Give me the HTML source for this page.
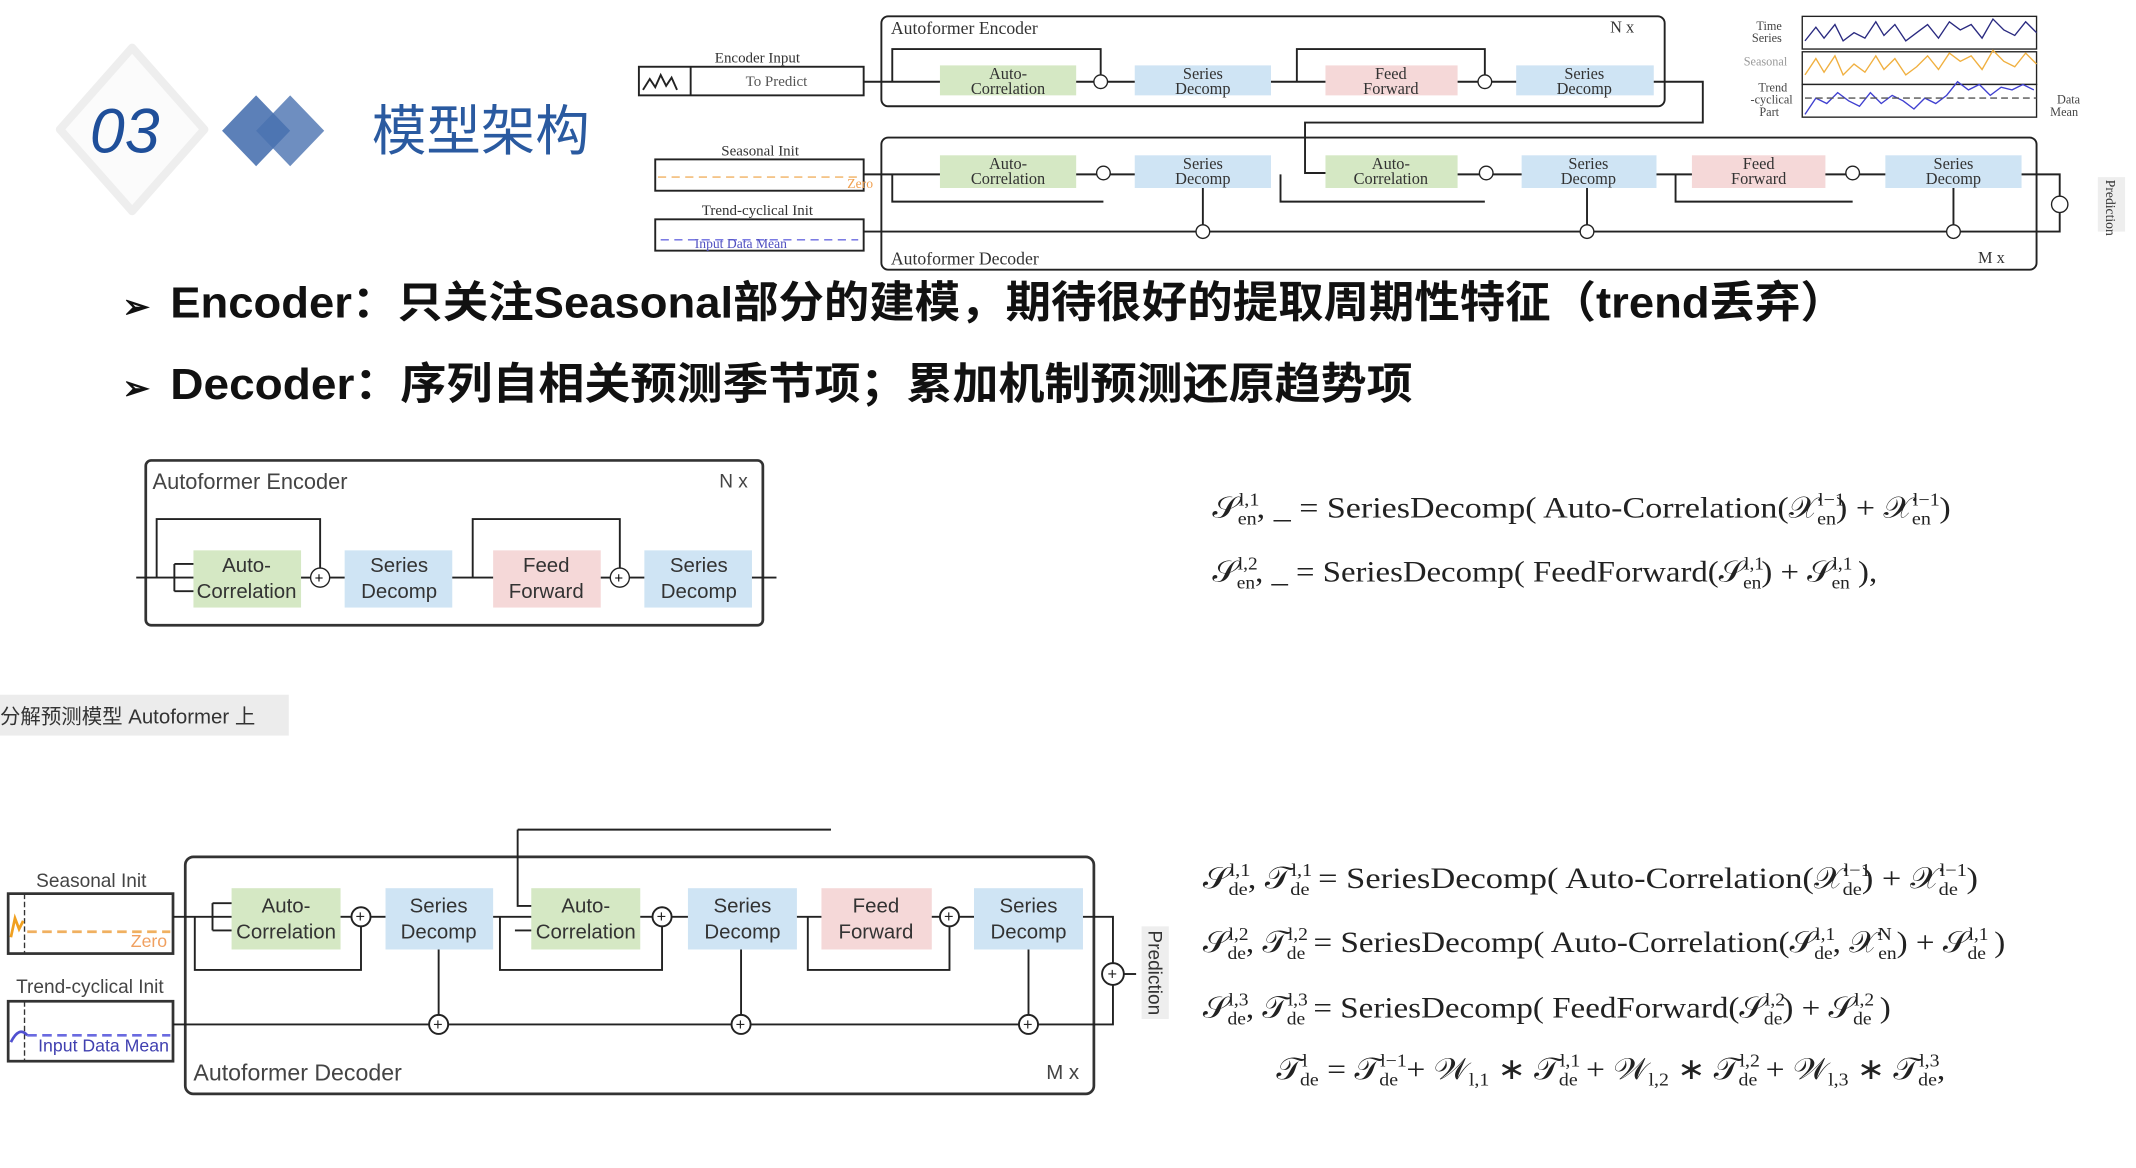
<!DOCTYPE html>
<html><head><meta charset="utf-8"><style>
html,body{margin:0;padding:0;background:#fff}
svg{display:block}
.cn{font-family:"Liberation Sans","Noto Sans CJK SC",sans-serif}
.m{font-family:"Liberation Serif",serif;font-size:22px;fill:#222}
.s{font-size:13px}
.b{font-family:"Liberation Sans",sans-serif;fill:#333;text-anchor:middle}
.ln{stroke:#222;fill:none;stroke-width:1.4}
</style></head><body>
<svg width="2136" height="1168" viewBox="0 0 1568 857.4" xmlns="http://www.w3.org/2000/svg">
<defs><marker id="a" viewBox="0 0 6 6" refX="5" refY="3" markerWidth="5" markerHeight="5" orient="auto"><path d="M0,0L6,3L0,6z" fill="#222"/></marker></defs>
<rect width="1568" height="858" fill="#fff"/>
<!-- header -->
<path d="M97,35 L150,95 L97,155 L44,95Z" fill="#fbfbfb" stroke="#eee" stroke-width="6" stroke-linejoin="round"/>
<text x="66" y="112" font-family="Liberation Sans,sans-serif" font-style="italic" font-size="46" fill="#1f4f9a">03</text>
<path d="M188,70 L213,96 L188,122 L163,96Z" fill="#4a72b0" opacity="0.9"/>
<path d="M213,70 L238,96 L213,122 L188,96Z" fill="#4a72b0" opacity="0.8"/>
<text x="273" y="110" class="cn" font-size="40" fill="#2a5aa0">模型架构</text>

<!-- top diagram -->
<g font-family="Liberation Serif,serif">
<rect x="647" y="12" width="575" height="66" rx="5" class="ln"/>
<text x="654" y="25" font-size="13" fill="#333">Autoformer Encoder</text><text x="1182" y="24" font-size="12" fill="#333">N x</text>
<rect x="647" y="101" width="848" height="97" rx="5" class="ln"/>
<text x="654" y="194" font-size="13" fill="#333">Autoformer Decoder</text><text x="1452" y="193" font-size="12" fill="#333">M x</text>
<text x="556" y="46" font-size="11" fill="#333" text-anchor="middle">Encoder Input</text>
<rect x="469" y="49" width="165" height="21" class="ln"/><line x1="507" y1="49" x2="507" y2="70" class="ln"/>
<path d="M472,66 l5,-8 4,6 4,-9 4,8 4,-6 4,9" class="ln" stroke-width="1"/>
<text x="570" y="63" font-size="11" fill="#555" text-anchor="middle">To Predict</text>
<text x="558" y="114" font-size="11" fill="#333" text-anchor="middle">Seasonal Init</text>
<rect x="481" y="117" width="153" height="23" class="ln"/><line x1="483" y1="130" x2="630" y2="130" stroke="#f0b060" stroke-dasharray="6 4"/>
<text x="622" y="138" font-size="10" fill="#f0a050">Zero</text>
<text x="556" y="158" font-size="11" fill="#333" text-anchor="middle">Trend-cyclical Init</text>
<rect x="481" y="161" width="153" height="23" class="ln"/><line x1="485" y1="176" x2="630" y2="176" stroke="#6a6ae0" stroke-dasharray="6 4"/>
<text x="510" y="182" font-size="10" fill="#5050c0">Input Data Mean</text>
<g font-size="12" text-anchor="middle" fill="#333">
<rect x="690" y="48" width="100" height="22" fill="#d5e8c4"/><text x="740" y="58">Auto-</text><text x="740" y="69">Correlation</text>
<rect x="833" y="48" width="100" height="22" fill="#cfe4f4"/><text x="883" y="58">Series</text><text x="883" y="69">Decomp</text>
<rect x="973" y="48" width="97" height="22" fill="#f5d8d8"/><text x="1021" y="58">Feed</text><text x="1021" y="69">Forward</text>
<rect x="1113" y="48" width="101" height="22" fill="#cfe4f4"/><text x="1163" y="58">Series</text><text x="1163" y="69">Decomp</text>
<rect x="690" y="114" width="100" height="24" fill="#d5e8c4"/><text x="740" y="124">Auto-</text><text x="740" y="135">Correlation</text>
<rect x="833" y="114" width="100" height="24" fill="#cfe4f4"/><text x="883" y="124">Series</text><text x="883" y="135">Decomp</text>
<rect x="973" y="114" width="97" height="24" fill="#d5e8c4"/><text x="1021" y="124">Auto-</text><text x="1021" y="135">Correlation</text>
<rect x="1117" y="114" width="99" height="24" fill="#cfe4f4"/><text x="1166" y="124">Series</text><text x="1166" y="135">Decomp</text>
<rect x="1242" y="114" width="98" height="24" fill="#f5d8d8"/><text x="1291" y="124">Feed</text><text x="1291" y="135">Forward</text>
<rect x="1384" y="114" width="100" height="24" fill="#cfe4f4"/><text x="1434" y="124">Series</text><text x="1434" y="135">Decomp</text>
</g>
<g class="ln" stroke-width="1">
<path d="M634,60 H690"/><path d="M655,60 V36 H808 V55"/><path d="M790,60 H833"/><path d="M933,60 H973"/><path d="M952,60 V36 H1090 V55"/><path d="M1070,60 H1113"/><path d="M1214,60 H1250 V90 H958 V127 H973"/>
<path d="M634,128 H690"/><path d="M655,128 V148 H810"/><path d="M790,128 H833"/><path d="M940,128 V148 H1090"/><path d="M1070,128 H1117"/><path d="M1216,128 H1242"/><path d="M1230,128 V148 H1360"/><path d="M1340,128 H1384"/><path d="M1484,128 H1512 V144"/>
<path d="M634,170 H1512 V156"/><path d="M883,138 V165"/><path d="M1165,138 V165"/><path d="M1434,138 V165"/>
</g>
<g fill="#fff" stroke="#222" stroke-width="1">
<circle cx="808" cy="60" r="5"/><circle cx="1090" cy="60" r="5"/><circle cx="810" cy="127" r="5"/><circle cx="1091" cy="127" r="5"/><circle cx="1360" cy="127" r="5"/>
<circle cx="883" cy="170" r="5"/><circle cx="1165" cy="170" r="5"/><circle cx="1434" cy="170" r="5"/><circle cx="1512" cy="150" r="6"/></g>
<rect x="1540" y="130" width="20" height="40" fill="#eee"/><text x="1546" y="132" font-size="10" transform="rotate(90 1546 132)" fill="#333">Prediction</text>
<text x="1308" y="22" font-size="9" text-anchor="end" fill="#444">Time</text><text x="1308" y="31" font-size="9" text-anchor="end" fill="#444">Series</text>
<text x="1312" y="48" font-size="9" text-anchor="end" fill="#999">Seasonal</text><text x="1312" y="67" font-size="9" text-anchor="end" fill="#444">Trend</text><text x="1316" y="76" font-size="9" text-anchor="end" fill="#444">-cyclical</text><text x="1306" y="85" font-size="9" text-anchor="end" fill="#444">Part</text>
<text x="1510" y="76" font-size="9" fill="#444">Data</text><text x="1505" y="85" font-size="9" fill="#444">Mean</text>
<rect x="1323" y="12" width="172" height="24" fill="#fff" stroke="#222"/><rect x="1323" y="38" width="172" height="24" fill="#fff" stroke="#222"/><rect x="1323" y="62" width="172" height="24" fill="#fff" stroke="#222"/>
<path d="M1325,30 l8,-10 6,8 8,-10 6,12 8,-6 8,4 8,-12 6,10 8,-8 8,12 8,-6 8,-6 8,10 8,-12 8,6 8,-4 8,10 8,-14 8,8 8,4 8,-10 8,8" fill="none" stroke="#2a2a80" stroke-width="1"/>
<path d="M1325,55 l8,-12 6,10 8,-12 6,14 8,-8 8,6 8,-12 6,10 8,-8 8,12 8,-6 8,-8 8,10 8,-12 8,6 8,-4 8,10 8,-14 8,8 8,4 8,-10 8,8" fill="none" stroke="#f0b040" stroke-width="1"/>
<path d="M1325,84 l8,-12 8,4 8,-8 8,6 8,4 8,-10 8,8 8,-6 8,4 8,6 8,-8 8,4 8,-6 8,-10 8,6 8,-4 8,8 8,-6 8,2 8,-4 8,4" fill="none" stroke="#4040d0" stroke-width="1"/>
<line x1="1325" y1="72" x2="1495" y2="72" stroke="#555" stroke-dasharray="5 3"/>
</g>

<!-- bullets -->
<g class="cn" font-weight="bold" fill="#111">
<text x="90" y="233" font-size="24">➢</text>
<text x="125" y="233" font-size="32" textLength="1230" lengthAdjust="spacingAndGlyphs">Encoder：只关注Seasonal部分的建模，期待很好的提取周期性特征（trend丢弃）</text>
<text x="90" y="293" font-size="24">➢</text>
<text x="125" y="293" font-size="32" textLength="912" lengthAdjust="spacingAndGlyphs">Decoder：序列自相关预测季节项；累加机制预测还原趋势项</text>
</g>

<!-- middle encoder -->
<g font-family="Liberation Sans,sans-serif">
<rect x="107" y="338" width="453" height="121" rx="4" fill="none" stroke="#333" stroke-width="2"/>
<text x="112" y="359" font-size="16" fill="#444">Autoformer Encoder</text><text x="528" y="358" font-size="14" fill="#444">N x</text>
<g font-size="15" text-anchor="middle" fill="#333">
<rect x="142" y="404" width="79" height="42" fill="#d5e8c4"/><text x="181" y="420">Auto-</text><text x="181" y="439">Correlation</text>
<rect x="253" y="404" width="79" height="42" fill="#cfe4f4"/><text x="293" y="420">Series</text><text x="293" y="439">Decomp</text>
<rect x="362" y="404" width="79" height="42" fill="#f5d8d8"/><text x="401" y="420">Feed</text><text x="401" y="439">Forward</text>
<rect x="473" y="404" width="79" height="42" fill="#cfe4f4"/><text x="513" y="420">Series</text><text x="513" y="439">Decomp</text>
</g>
<g class="ln">
<path d="M100,424 H142"/><path d="M115,424 V381 H235 V418"/><path d="M221,424 H229"/><path d="M241,424 H253"/><path d="M332,424 H362"/><path d="M347,424 V381 H455 V418"/><path d="M441,424 H449"/><path d="M461,424 H473"/><path d="M552,424 H570"/>
<path d="M128,414 V434 M128,414 H142 M128,434 H142"/>
</g>
<circle cx="235" cy="424" r="7" fill="#fff" stroke="#222"/><circle cx="455" cy="424" r="7" fill="#fff" stroke="#222"/>
<text x="231" y="428" font-size="11">+</text><text x="451" y="428" font-size="11">+</text>
</g>

<!-- tag -->
<rect x="0" y="510" width="212" height="30" fill="#ececec"/>
<text x="0" y="531" class="cn" font-size="15" fill="#333">分解预测模型 Autoformer 上</text>

<!-- bottom decoder -->
<g font-family="Liberation Sans,sans-serif">
<rect x="136" y="629" width="667" height="174" rx="6" fill="none" stroke="#333" stroke-width="2"/>
<text x="142" y="793" font-size="17" fill="#444">Autoformer Decoder</text><text x="768" y="792" font-size="15" fill="#444">M x</text>
<text x="67" y="651" font-size="14" fill="#444" text-anchor="middle">Seasonal Init</text>
<rect x="6" y="656" width="121" height="44" fill="#fff" stroke="#333" stroke-width="2"/><line x1="18" y1="656" x2="18" y2="700" stroke="#333" stroke-dasharray="4 2"/>
<line x1="20" y1="684" x2="125" y2="684" stroke="#f0b060" stroke-width="2" stroke-dasharray="7 4"/><path d="M8,688 l3,-14 3,8 3,-6" stroke="#f0a020" fill="none" stroke-width="2"/>
<text x="96" y="695" font-size="13" fill="#f0a060">Zero</text>
<text x="66" y="729" font-size="14" fill="#444" text-anchor="middle">Trend-cyclical Init</text>
<rect x="6" y="735" width="121" height="44" fill="#fff" stroke="#333" stroke-width="2"/><line x1="18" y1="735" x2="18" y2="779" stroke="#333" stroke-dasharray="4 2"/>
<line x1="20" y1="760" x2="125" y2="760" stroke="#6a6ae0" stroke-width="2" stroke-dasharray="7 4"/><path d="M8,765 q6,-12 12,-5" stroke="#5050d0" fill="none" stroke-width="2"/>
<text x="28" y="772" font-size="13" fill="#4040b0">Input Data Mean</text>
<g font-size="15" text-anchor="middle" fill="#333">
<rect x="170" y="652" width="80" height="45" fill="#d5e8c4"/><text x="210" y="670">Auto-</text><text x="210" y="689">Correlation</text>
<rect x="283" y="652" width="79" height="45" fill="#cfe4f4"/><text x="322" y="670">Series</text><text x="322" y="689">Decomp</text>
<rect x="390" y="652" width="80" height="45" fill="#d5e8c4"/><text x="430" y="670">Auto-</text><text x="430" y="689">Correlation</text>
<rect x="505" y="652" width="80" height="45" fill="#cfe4f4"/><text x="545" y="670">Series</text><text x="545" y="689">Decomp</text>
<rect x="603" y="652" width="81" height="45" fill="#f5d8d8"/><text x="643" y="670">Feed</text><text x="643" y="689">Forward</text>
<rect x="715" y="652" width="80" height="45" fill="#cfe4f4"/><text x="755" y="670">Series</text><text x="755" y="689">Decomp</text>
</g>
<g class="ln" stroke-width="1.6">
<path d="M127,673 H170"/><path d="M143,673 V712 H265 V680"/><path d="M250,673 H258"/><path d="M272,673 H283"/>
<path d="M156,663 V683 M156,663 H170 M156,683 H170"/>
<path d="M362,673 H390"/><path d="M367,673 V712 H486 V680"/><path d="M470,673 H479"/><path d="M493,673 H505"/>
<path d="M380,609 H610 M380,609 V665 H390"/><path d="M378,683 H390"/>
<path d="M585,673 H603"/><path d="M593,673 V712 H697 V680"/><path d="M684,673 H690"/><path d="M704,673 H715"/>
<path d="M795,673 H817 V707"/><path d="M824,715 H834"/>
<path d="M127,752 H315"/><path d="M329,752 H537"/><path d="M551,752 H748"/><path d="M762,752 H817 V723"/>
<path d="M322,697 V745"/><path d="M544,697 V745"/><path d="M755,697 V745"/>
</g>
<g fill="#fff" stroke="#222" stroke-width="1.4">
<circle cx="265" cy="673" r="7"/><circle cx="486" cy="673" r="7"/><circle cx="697" cy="673" r="7"/>
<circle cx="322" cy="752" r="7"/><circle cx="544" cy="752" r="7"/><circle cx="755" cy="752" r="7"/><circle cx="817" cy="715" r="8"/></g>
<g font-size="12" fill="#222"><text x="261" y="677">+</text><text x="482" y="677">+</text><text x="693" y="677">+</text><text x="318" y="756">+</text><text x="540" y="756">+</text><text x="751" y="756">+</text><text x="813" y="719">+</text></g>
<rect x="838" y="680" width="20" height="68" fill="#eee"/>
<text x="843" y="683" font-size="14" fill="#333" transform="rotate(90 843 683)">Prediction</text>
</g>

<!-- formulas -->
<g class="m">
<text x="890" y="380" textLength="542" lengthAdjust="spacingAndGlyphs">𝒮<tspan class="s" dy="-9">l,1</tspan><tspan class="s" dx="-14" dy="14">en</tspan><tspan dy="-5">, _ = SeriesDecomp( Auto-Correlation(𝒳</tspan><tspan class="s" dy="-9">l−1</tspan><tspan class="s" dx="-18" dy="14">en</tspan><tspan dy="-5">) + 𝒳</tspan><tspan class="s" dy="-9">l−1</tspan><tspan class="s" dx="-18" dy="14">en</tspan><tspan dy="-5"> )</tspan></text>
<text x="890" y="427" textLength="488" lengthAdjust="spacingAndGlyphs">𝒮<tspan class="s" dy="-9">l,2</tspan><tspan class="s" dx="-14" dy="14">en</tspan><tspan dy="-5">, _ = SeriesDecomp( FeedForward(𝒮</tspan><tspan class="s" dy="-9">l,1</tspan><tspan class="s" dx="-14" dy="14">en</tspan><tspan dy="-5">) + 𝒮</tspan><tspan class="s" dy="-9">l,1</tspan><tspan class="s" dx="-14" dy="14">en</tspan><tspan dy="-5"> ),</tspan></text>
<text x="883" y="652" textLength="569" lengthAdjust="spacingAndGlyphs">𝒮<tspan class="s" dy="-9">l,1</tspan><tspan class="s" dx="-14" dy="14">de</tspan><tspan dy="-5">, 𝒯</tspan><tspan class="s" dy="-9">l,1</tspan><tspan class="s" dx="-14" dy="14">de</tspan><tspan dy="-5"> = SeriesDecomp( Auto-Correlation(𝒳</tspan><tspan class="s" dy="-9">l−1</tspan><tspan class="s" dx="-18" dy="14">de</tspan><tspan dy="-5">) + 𝒳</tspan><tspan class="s" dy="-9">l−1</tspan><tspan class="s" dx="-18" dy="14">de</tspan><tspan dy="-5"> )</tspan></text>
<text x="883" y="699" textLength="589" lengthAdjust="spacingAndGlyphs">𝒮<tspan class="s" dy="-9">l,2</tspan><tspan class="s" dx="-14" dy="14">de</tspan><tspan dy="-5">, 𝒯</tspan><tspan class="s" dy="-9">l,2</tspan><tspan class="s" dx="-14" dy="14">de</tspan><tspan dy="-5"> = SeriesDecomp( Auto-Correlation(𝒮</tspan><tspan class="s" dy="-9">l,1</tspan><tspan class="s" dx="-14" dy="14">de</tspan><tspan dy="-5">, 𝒳</tspan><tspan class="s" dy="-9">N</tspan><tspan class="s" dx="-9" dy="14">en</tspan><tspan dy="-5">) + 𝒮</tspan><tspan class="s" dy="-9">l,1</tspan><tspan class="s" dx="-14" dy="14">de</tspan><tspan dy="-5"> )</tspan></text>
<text x="883" y="747" textLength="505" lengthAdjust="spacingAndGlyphs">𝒮<tspan class="s" dy="-9">l,3</tspan><tspan class="s" dx="-14" dy="14">de</tspan><tspan dy="-5">, 𝒯</tspan><tspan class="s" dy="-9">l,3</tspan><tspan class="s" dx="-14" dy="14">de</tspan><tspan dy="-5"> = SeriesDecomp( FeedForward(𝒮</tspan><tspan class="s" dy="-9">l,2</tspan><tspan class="s" dx="-14" dy="14">de</tspan><tspan dy="-5">) + 𝒮</tspan><tspan class="s" dy="-9">l,2</tspan><tspan class="s" dx="-14" dy="14">de</tspan><tspan dy="-5"> )</tspan></text>
<text x="937" y="792" textLength="491" lengthAdjust="spacingAndGlyphs">𝒯<tspan class="s" dy="-9">l</tspan><tspan class="s" dx="-5" dy="14">de</tspan><tspan dy="-5"> = 𝒯</tspan><tspan class="s" dy="-9">l−1</tspan><tspan class="s" dx="-18" dy="14">de</tspan><tspan dy="-5"> + 𝒲</tspan><tspan class="s" dy="5">l,1</tspan><tspan dy="-5"> ∗ 𝒯</tspan><tspan class="s" dy="-9">l,1</tspan><tspan class="s" dx="-14" dy="14">de</tspan><tspan dy="-5"> + 𝒲</tspan><tspan class="s" dy="5">l,2</tspan><tspan dy="-5"> ∗ 𝒯</tspan><tspan class="s" dy="-9">l,2</tspan><tspan class="s" dx="-14" dy="14">de</tspan><tspan dy="-5"> + 𝒲</tspan><tspan class="s" dy="5">l,3</tspan><tspan dy="-5"> ∗ 𝒯</tspan><tspan class="s" dy="-9">l,3</tspan><tspan class="s" dx="-14" dy="14">de</tspan><tspan dy="-5">,</tspan></text>
</g>
</svg>
</body></html>
